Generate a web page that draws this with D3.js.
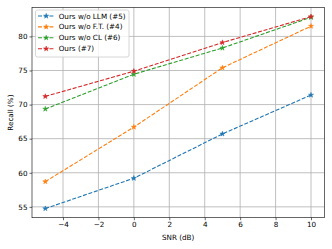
<!DOCTYPE html>
<html><head><meta charset="utf-8">
<script src="https://cdn.jsdelivr.net/npm/d3@7"></script>
<style>body{margin:0;background:#fff}svg{display:block}text{font-family:"DejaVu Sans",sans-serif}</style>
</head><body>
<script>
const snr = [-5, 0, 5, 10];
const seriesNames = ["Ours w/o LLM (#5)", "Ours w/o F.T. (#4)", "Ours w/o CL (#6)", "Ours (#7)"];
const noLLM = [54.75, 59.2, 65.7, 71.4];
const noFT = [58.7, 66.7, 75.4, 81.5];
const noCL = [69.35, 74.45, 78.3, 82.8];
const ours = [71.2, 74.9, 79.1, 82.9];
const colors = ["#1f77b4", "#ff7f0e", "#2ca02c", "#d62728"];
const xTicks = [-4, -2, 0, 2, 4, 6, 8, 10];
const yTicks = [55, 60, 65, 70, 75, 80];

const W = 332, H = 249;
const L = 32, R = 324.3, T = 7.5, B = 217.7;
const svg = d3.select("body").append("svg").attr("width", W).attr("height", H);
const x = d3.scaleLinear().domain([-5.75, 10.75]).range([L, R]);
const y = d3.scaleLinear().domain([53.41, 84.24]).range([B, T]);
const fs = 7.2;

// grid
const g = svg.append("g");
g.selectAll(".gx").data(xTicks).join("line")
  .attr("x1", d => x(d)).attr("x2", d => x(d)).attr("y1", T).attr("y2", B)
  .attr("stroke", "#b0b0b0").attr("stroke-width", 0.8);
g.selectAll(".gy").data(yTicks).join("line")
  .attr("y1", d => y(d)).attr("y2", d => y(d)).attr("x1", L).attr("x2", R)
  .attr("stroke", "#b0b0b0").attr("stroke-width", 0.8);

// axes
const xAxis = d3.axisBottom(x).tickValues(xTicks).tickSize(2.5).tickPadding(2).tickFormat(d => d < 0 ? "\u2212" + Math.abs(d) : d);
const yAxis = d3.axisLeft(y).tickValues(yTicks).tickSize(2.5).tickPadding(2);
const ax = svg.append("g").attr("transform", `translate(0,${B})`).call(xAxis);
const ay = svg.append("g").attr("transform", `translate(${L},0)`).call(yAxis);
[ax, ay].forEach(a => {
  a.select(".domain").remove();
  a.selectAll("line").attr("stroke", "#000").attr("stroke-width", 0.6);
  a.selectAll("text").attr("font-size", fs).attr("font-family", "DejaVu Sans").attr("fill", "#000");
});
svg.append("rect").attr("x", L).attr("y", T).attr("width", R - L).attr("height", B - T)
  .attr("fill", "none").attr("stroke", "#000").attr("stroke-width", 0.6);

// lines
const data = [noLLM, noFT, noCL, ours];
const line = d3.line().x((d, i) => x(snr[i])).y(d => y(d));
const star = d3.symbol().type(d3.symbolStar).size(8);
data.forEach((vals, k) => {
  svg.append("path").datum(vals).attr("d", line).attr("fill", "none")
    .attr("stroke", colors[k]).attr("stroke-width", 1.1).attr("stroke-dasharray", "4,1.7");
  svg.selectAll(".m" + k).data(vals).join("path")
    .attr("transform", (d, i) => `translate(${x(snr[i])},${y(d)})`)
    .attr("d", star).attr("fill", colors[k]).attr("stroke", colors[k]).attr("stroke-width", 0.5);
});

// axis labels
svg.append("text").attr("x", (L + R) / 2).attr("y", 240).attr("text-anchor", "middle")
  .attr("font-size", fs).text("SNR (dB)");
svg.append("text").attr("transform", `translate(10.5,${(T + B) / 2}) rotate(-90)`)
  .attr("text-anchor", "middle").attr("dy", "0.35em").attr("font-size", fs).text("Recall (%)");

// legend
const lg = svg.append("g");
lg.append("rect").attr("x", 35.5).attr("y", 10).attr("width", 93.5).attr("height", 47).attr("rx", 2)
  .attr("fill", "#fff").attr("fill-opacity", 0.8).attr("stroke", "#ccc").attr("stroke-width", 0.8);
seriesNames.forEach((name, k) => {
  const yy = 16 + k * 10.9;
  lg.append("line").attr("x1", 38).attr("x2", 54.5).attr("y1", yy).attr("y2", yy)
    .attr("stroke", colors[k]).attr("stroke-width", 1.1).attr("stroke-dasharray", "4,1.7");
  lg.append("path").attr("transform", `translate(46.2,${yy})`).attr("d", star)
    .attr("fill", colors[k]).attr("stroke", colors[k]).attr("stroke-width", 0.5);
  lg.append("text").attr("x", 58.7).attr("y", yy).attr("dy", "0.35em").attr("font-size", fs).text(name);
});
</script>
</body></html>
